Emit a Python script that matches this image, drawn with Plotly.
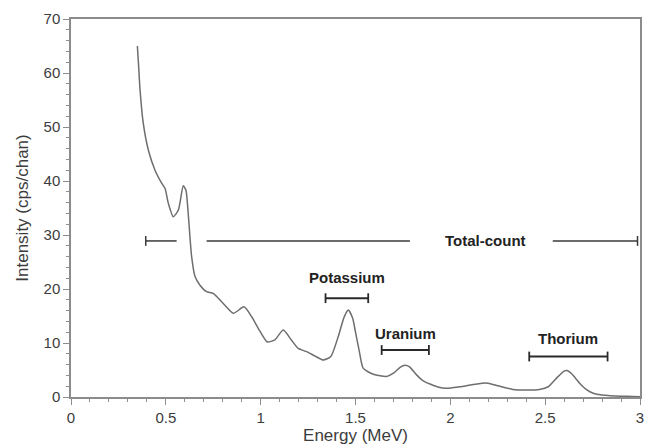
import plotly.graph_objects as go

# Spectrum (energy in MeV, intensity in cps/chan)
energy = [0.35, 0.357, 0.364, 0.381, 0.408, 0.443, 0.478, 0.496, 0.513, 0.539,
          0.566, 0.592, 0.606, 0.618, 0.627, 0.636, 0.654, 0.68, 0.715, 0.75,
          0.803, 0.856, 0.912, 0.952, 0.996, 1.035, 1.075, 1.119, 1.163, 1.198,
          1.242, 1.286, 1.33, 1.37, 1.409, 1.44, 1.462, 1.485, 1.50, 1.52,
          1.541, 1.594, 1.664, 1.70, 1.735, 1.761, 1.785, 1.822, 1.857, 1.893,
          1.93, 1.98, 2.05, 2.12, 2.19, 2.25, 2.33, 2.40, 2.47, 2.516,
          2.56, 2.60, 2.616, 2.64, 2.683, 2.72, 2.753, 2.80, 2.84, 2.90,
          2.96, 3.0]
intensity = [65.0, 61.0, 56.9, 50.7, 45.7, 42.0, 39.6, 38.6, 35.9, 33.4,
             34.6, 39.1, 38.3, 34.0, 29.7, 26.0, 22.3, 20.7, 19.5, 19.2,
             17.3, 15.5, 16.7, 14.9, 12.2, 10.2, 10.6, 12.4, 10.5, 9.0,
             8.4, 7.6, 6.85, 7.5, 11.2, 14.8, 16.1, 14.6, 12.0, 8.5,
             5.3, 4.2, 3.8, 4.4, 5.5, 5.9, 5.6, 4.1, 3.0, 2.4,
             1.9, 1.6, 1.9, 2.3, 2.6, 2.1, 1.4, 1.3, 1.4, 1.9,
             3.5, 4.8, 4.9, 4.3, 2.5, 1.3, 0.7, 0.35, 0.25, 0.15,
             0.1, 0.05]

# Energy windows
window_names = ["Potassium", "Uranium", "Thorium"]
window_lo = [1.342, 1.638, 2.416]
window_hi = [1.567, 1.887, 2.829]
window_bar_y = [18.3, 8.7, 7.5]
window_label_y = [22.2, 11.7, 10.8]

# Total-count window, drawn in pieces around the curve and its label
total_segments = [(0.394, 0.557), (0.715, 1.787), (2.54, 2.987)]
total_caps = [0.394, 2.987]
total_y = 28.9
total_label = "Total-count"
total_label_x = 2.188

x_ticks = [0, 0.5, 1, 1.5, 2, 2.5, 3]
x_tick_text = ["0", "0.5", "1", "1.5", "2", "2.5", "3"]
y_ticks = [0, 10, 20, 30, 40, 50, 60, 70]

FONT = "Liberation Sans, Arial, sans-serif"

fig = go.Figure()

fig.add_trace(go.Scatter(
    x=energy, y=intensity, mode="lines",
    line=dict(color="#6e6e6e", width=1.5, shape="spline", smoothing=0.6),
    hoverinfo="skip", showlegend=False))

# Total-count bar
for a, b in total_segments:
    fig.add_trace(go.Scatter(
        x=[a, b], y=[total_y, total_y], mode="lines",
        line=dict(color="#3a3a3a", width=1.5), showlegend=False, hoverinfo="skip"))
fig.add_trace(go.Scatter(
    x=total_caps, y=[total_y] * len(total_caps), mode="markers",
    marker=dict(symbol="line-ns", size=7, line=dict(color="#3a3a3a", width=1.5)),
    showlegend=False, hoverinfo="skip"))
fig.add_annotation(x=total_label_x, y=total_y, text="<b>" + total_label + "</b>",
                   showarrow=False, font=dict(family=FONT, size=15, color="#222222"))

# K, U, Th windows
for name, lo, hi, by, ly in zip(window_names, window_lo, window_hi, window_bar_y, window_label_y):
    fig.add_trace(go.Scatter(
        x=[lo, hi], y=[by, by], mode="lines+markers",
        line=dict(color="#2a2a2a", width=2),
        marker=dict(symbol="line-ns", size=7, line=dict(color="#2a2a2a", width=1.8)),
        showlegend=False, hoverinfo="skip"))
    fig.add_annotation(x=(lo + hi) / 2, y=ly, text="<b>" + name + "</b>",
                       showarrow=False, font=dict(family=FONT, size=15, color="#222222"))

axis_common = dict(
    showgrid=False, zeroline=False, showline=True, linecolor="#8c8c8c", linewidth=1.5,
    mirror=True, ticks="outside", ticklen=6, tickwidth=1.2, tickcolor="#8c8c8c",
    tickfont=dict(family=FONT, size=15, color="#3c3c3c"), automargin=False,
)

fig.update_xaxes(
    range=[0, 3], tickvals=x_ticks, ticktext=x_tick_text,
    minor=dict(dtick=0.1, ticks="outside", ticklen=3, tickcolor="#8c8c8c", tickwidth=1),
    title=dict(text="Energy (MeV)", font=dict(family=FONT, size=17, color="#3c3c3c"), standoff=4),
    **axis_common)
fig.update_yaxes(
    range=[0, 70], tickvals=y_ticks,
    minor=dict(dtick=2, ticks="outside", ticklen=3, tickcolor="#8c8c8c", tickwidth=1),
    title=dict(text="Intensity (cps/chan)", font=dict(family=FONT, size=17, color="#3c3c3c"), standoff=11),
    **axis_common)

# The page body adds an 8px offset, so the figure is 8px smaller than the window
fig.update_layout(
    width=648, height=440,
    margin=dict(l=63, r=16, t=11, b=51),
    plot_bgcolor="white", paper_bgcolor="white",
    showlegend=False,
)

fig.write_html("out.html")
